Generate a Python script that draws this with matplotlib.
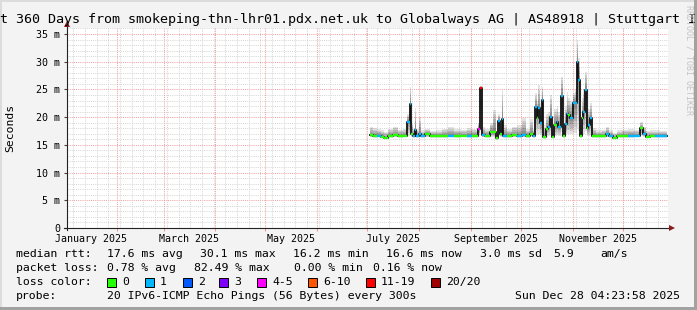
import numpy as np
import pandas as pd
import matplotlib
matplotlib.use("Agg")
import matplotlib.pyplot as plt
import matplotlib.dates as mdates
from matplotlib.collections import LineCollection
from matplotlib.patches import Rectangle

W, H = 697, 310
MONO = "DejaVu Sans Mono"

# median rtt (ms), smoke range (ms) and lost pings per consolidated sample
dates = [
    "2025-07-03", "2025-07-06", "2025-07-08", "2025-07-10", "2025-07-12", "2025-07-15",
    "2025-07-18", "2025-07-21", "2025-07-24", "2025-07-26", "2025-07-27", "2025-07-28",
    "2025-07-29", "2025-07-30", "2025-07-31", "2025-08-02", "2025-08-03", "2025-08-06",
    "2025-08-09", "2025-08-13", "2025-08-17", "2025-08-20", "2025-08-24", "2025-08-28",
    "2025-08-31", "2025-09-03", "2025-09-05", "2025-09-06", "2025-09-07", "2025-09-08",
    "2025-09-11", "2025-09-14", "2025-09-15", "2025-09-17", "2025-09-18", "2025-09-19",
    "2025-09-20", "2025-09-21", "2025-09-24", "2025-09-27", "2025-09-30", "2025-10-03",
    "2025-10-05", "2025-10-08", "2025-10-09", "2025-10-10", "2025-10-11", "2025-10-12",
    "2025-10-13", "2025-10-14", "2025-10-15", "2025-10-17", "2025-10-18", "2025-10-19",
    "2025-10-20", "2025-10-22", "2025-10-23", "2025-10-24", "2025-10-26", "2025-10-27",
    "2025-10-28", "2025-10-29", "2025-10-30", "2025-10-31", "2025-11-02", "2025-11-03",
    "2025-11-04", "2025-11-05", "2025-11-06", "2025-11-07", "2025-11-08", "2025-11-09",
    "2025-11-10", "2025-11-11", "2025-11-12", "2025-11-13", "2025-11-17", "2025-11-20",
    "2025-11-22", "2025-11-24", "2025-11-26", "2025-11-29", "2025-12-02", "2025-12-06",
    "2025-12-10", "2025-12-13", "2025-12-14", "2025-12-16", "2025-12-19", "2025-12-22",
    "2025-12-25", "2025-12-27",
]
median = [
    16.7, 16.6, 16.6, 16.5, 16.2, 16.6, 16.7, 16.6, 16.6, 19.2, 22.3, 17.0,
    16.6, 17.7, 16.6, 16.9, 16.6, 16.9, 16.6, 16.6, 16.6, 16.6, 16.6, 16.6,
    16.6, 16.6, 16.6, 17.9, 25.3, 16.8, 16.6, 17.3, 17.3, 16.2, 19.3, 17.0,
    19.7, 16.6, 16.6, 16.7, 16.6, 16.8, 16.6, 17.0, 16.6, 21.8, 19.9, 21.6,
    19.0, 23.1, 16.4, 17.9, 18.3, 20.0, 16.5, 18.6, 19.1, 18.3, 23.9, 16.6,
    18.8, 20.6, 20.4, 19.9, 22.6, 22.5, 30.0, 26.7, 16.6, 19.9, 21.0, 24.9,
    18.0, 18.5, 19.9, 16.6, 16.6, 16.6, 16.9, 16.6, 16.2, 16.6, 16.6, 16.6,
    16.6, 18.0, 17.0, 16.4, 16.6, 16.6, 16.6, 16.6,
]
smoke_lo = [
    16.4, 16.3, 16.4, 16.3, 16.0, 16.3, 16.4, 16.3, 16.4, 16.6, 17.0, 16.4,
    16.3, 16.5, 16.3, 16.4, 16.3, 16.4, 16.3, 16.3, 16.3, 16.4, 16.3, 16.4,
    16.3, 16.3, 16.3, 16.5, 17.5, 16.4, 16.3, 16.5, 16.5, 15.9, 16.6, 16.4,
    16.8, 16.3, 16.3, 16.4, 16.3, 16.4, 16.3, 16.4, 16.3, 17.0, 16.8, 17.0,
    16.7, 17.2, 16.1, 16.5, 16.6, 16.8, 16.2, 16.6, 16.7, 16.6, 17.3, 16.3,
    16.7, 17.0, 17.0, 16.9, 17.2, 17.2, 18.0, 17.5, 16.3, 16.8, 17.0, 17.5,
    16.6, 16.6, 16.8, 16.3, 16.3, 16.3, 16.4, 16.3, 16.0, 16.3, 16.3, 16.3,
    16.4, 16.6, 16.4, 16.2, 16.3, 16.3, 16.3, 16.3,
]
smoke_hi = [
    18.3, 18.0, 17.8, 17.6, 17.4, 17.9, 18.3, 17.7, 17.9, 20.5, 25.4, 19.0,
    18.0, 21.7, 17.8, 20.0, 17.6, 17.8, 17.5, 17.6, 17.9, 18.2, 17.8, 17.7,
    18.0, 17.9, 17.8, 19.0, 25.6, 18.2, 17.8, 19.0, 21.3, 17.0, 20.5, 18.5,
    24.9, 18.5, 17.8, 18.3, 18.5, 19.9, 17.8, 19.6, 17.8, 24.4, 23.0, 25.8,
    22.5, 25.5, 18.5, 20.5, 21.0, 24.0, 18.5, 21.5, 22.0, 21.0, 27.3, 18.5,
    22.0, 24.5, 23.5, 23.0, 24.3, 25.0, 34.0, 30.6, 18.5, 23.5, 25.0, 28.2,
    21.0, 21.5, 22.5, 18.0, 17.6, 17.7, 18.3, 17.6, 17.2, 17.6, 17.7, 17.8,
    17.7, 19.1, 18.2, 17.5, 17.6, 17.6, 17.5, 17.5,
]
loss = [
    0, 0, 1, 0, 0, 0, 0, 0, 0, 1, 1, 0,
    1, 1, 1, 1, 1, 0, 0, 0, 0, 1, 0, 0,
    1, 0, 0, 4, 11, 1, 0, 0, 0, 0, 1, 0,
    1, 1, 0, 0, 1, 1, 0, 0, 1, 1, 0, 1,
    1, 1, 0, 0, 1, 1, 0, 0, 1, 1, 1, 0,
    1, 1, 0, 1, 1, 1, 1, 1, 0, 0, 1, 1,
    0, 1, 1, 0, 0, 0, 1, 1, 0, 0, 0, 1,
    1, 0, 1, 0, 0, 1, 1, 1,
]

loss_labels = ["0", "1", "2", "3", "4-5", "6-10", "11-19", "20/20"]
loss_upper = [0, 1, 2, 3, 5, 10, 19, 20]
loss_colors = ["#26ff00", "#00b8ff", "#0059ff", "#7e00ff",
               "#ff00ff", "#ff5500", "#ff0000", "#a10000"]

title = ("Last 360 Days from smokeping-thn-lhr01.pdx.net.uk to "
         "Globalways AG | AS48918 | Stuttgart IPv6")
rtt_stats = ["17.6 ms avg", "30.1 ms max", "16.2 ms min", "16.6 ms now",
             "3.0 ms sd", "5.9", "am/s"]
loss_stats = ["0.78 % avg", "82.49 % max", "0.00 % min", "0.16 % now"]
probe_text = "20 IPv6-ICMP Echo Pings (56 Bytes) every 300s"
stamp = "Sun Dec 28 04:23:58 2025"

t_end = pd.Timestamp("2025-12-28 04:23:58")
t_start = t_end - pd.Timedelta(days=360)


def loss_color(n):
    for up, c in zip(loss_upper, loss_colors):
        if n <= up:
            return c
    return loss_colors[-1]


fig = plt.figure(figsize=(W / 100, H / 100), dpi=100, facecolor="#f3f3f3")
ax = fig.add_axes([67 / W, (H - 228) / H, 601 / W, 200 / H])
ax.set_facecolor("white")
ax.set_xlim(mdates.date2num(t_start), mdates.date2num(t_end))
ax.set_ylim(0, 200 / 5.543)
for s in ax.spines.values():
    s.set_visible(False)

# grid: 1 ms minor, 5 ms major; weekly minor, monthly major
for v in range(1, 37):
    major = v % 5 == 0
    ax.axhline(v, color="#f29a9a" if major else "#d4d4d4", lw=0.7,
               ls=(0, (1, 1.2)), zorder=0)
month_starts = pd.date_range("2025-02-01", "2025-12-01", freq="MS")
weeks = pd.date_range("2025-01-06", "2025-12-28", freq="7D")
for w in weeks:
    ax.axvline(mdates.date2num(w), color="#d4d4d4", lw=0.7, ls=(0, (1, 1.2)), zorder=0)
for m in month_starts:
    ax.axvline(mdates.date2num(m), color="#f29a9a", lw=0.7, ls=(0, (1, 1.2)), zorder=0)

# smoke + median
x = mdates.date2num(pd.to_datetime(dates))
med = np.array(median)
lo = np.array(smoke_lo)
hi = np.array(smoke_hi)
edges = np.concatenate([[x[0] - 0.5], (x[:-1] + x[1:]) / 2, [x[-1] + 0.5]])
xs = np.repeat(edges, 2)[1:-1]
for f in [1.0, 0.8, 0.6, 0.4, 0.2]:
    ax.fill_between(xs, np.repeat(med - (med - lo) * f, 2), np.repeat(med + (hi - med) * f, 2),
                    color="black", alpha=0.11, lw=0, zorder=2)
ax.plot(xs, np.repeat(med, 2), color="#111111", lw=1.3, zorder=3)
segs = [[(edges[i], med[i]), (edges[i + 1], med[i])] for i in range(len(med))]
ax.add_collection(LineCollection(segs, colors=[loss_color(n) for n in loss],
                                 lw=1.7, zorder=4, capstyle="butt"))

# ticks
yt = list(range(0, 36, 5))
ax.set_yticks(yt)
ax.set_yticklabels(["0" if v == 0 else f"{v} m" for v in yt])
mids, mlabels = [], []
for m in pd.date_range("2025-01-01", "2025-11-01", freq="2MS"):
    nxt = m + pd.offsets.MonthBegin(1)
    mids.append(mdates.date2num(m + (nxt - m) / 2))
    mlabels.append(m.strftime("%B %Y"))
ax.set_xticks(mids)
ax.set_xticklabels(mlabels)
ax.set_xticks([mdates.date2num(m) for m in month_starts], minor=True)
ax.tick_params(axis="x", which="major", length=0, pad=4)
ax.tick_params(axis="x", which="minor", length=2, color="#f08080")
ax.tick_params(axis="y", length=2, pad=3, color="#444444")
for lab in ax.get_xticklabels() + ax.get_yticklabels():
    lab.set_family(MONO)
    lab.set_fontsize(7.2)

# overlay in pixel coordinates for frame, axes arrows and legend
ov = fig.add_axes([0, 0, 1, 1])
ov.set_xlim(0, W)
ov.set_ylim(H, 0)
ov.axis("off")
ov.patch.set_alpha(0)
ov.add_patch(Rectangle((0, 0), W, 2, color="#dcdcdc", lw=0))
ov.add_patch(Rectangle((0, 0), 2, H, color="#dcdcdc", lw=0))
ov.add_patch(Rectangle((0, H - 3), W, 3, color="#a2a2a2", lw=0))
ov.add_patch(Rectangle((W - 3, 0), 3, H, color="#a2a2a2", lw=0))

ov.plot([67, 67], [230, 25], color="#222222", lw=0.8)
ov.plot([64, 670], [228, 228], color="#222222", lw=0.8)
ov.plot(67, 24, marker="^", color="#8b1a1a", ms=4, mew=0)
ov.plot(672, 228, marker=">", color="#8b1a1a", ms=4, mew=0)

ov.text(W / 2, 19, title, ha="center", va="center", family=MONO, fontsize=9.65)
ov.text(10, 128, "Seconds", rotation=90, ha="center", va="center",
        family=MONO, fontsize=8.2)
ov.text(689, 5, "RRDTOOL / TOBI OETIKER", rotation=270, ha="center", va="top",
        family=MONO, fontsize=6, color="#c4c4c4")


def put(px, py, s, ha="left"):
    ov.text(px, py, s, ha=ha, va="center", family=MONO, fontsize=8.25)


put(16, 254, "median rtt:")
for px, s in zip([107, 200, 293, 386, 480, 553, 600], rtt_stats):
    put(px, 254, s)
put(16, 268, "packet loss:")
for px, s in zip([107, 194, 294, 373], loss_stats):
    put(px, 268, s)
put(16, 282, "loss color:")
for bx, lab, c in zip([107, 145, 183, 219, 257, 308, 366, 431], loss_labels, loss_colors):
    ov.add_patch(Rectangle((bx, 277.5), 9, 9, facecolor=c, edgecolor="black", lw=0.7))
    put(bx + 15, 282, lab)
put(16, 296, "probe:")
put(107, 296, probe_text)
put(680, 296, stamp, ha="right")

fig.savefig("out.png", dpi=100, facecolor=fig.get_facecolor())
